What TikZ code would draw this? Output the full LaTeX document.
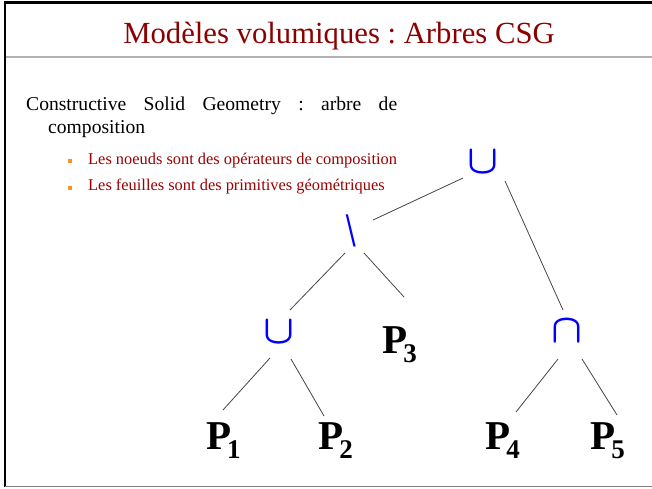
\documentclass[tikz,border=0pt]{standalone}
\usepackage{fontspec}
\setmainfont{Liberation Serif}
\usepackage{tikz}
\usetikzlibrary{positioning}
\usepackage{xcolor}
\definecolor{titlered}{HTML}{8B0000}
\definecolor{itemred}{HTML}{990000}
\definecolor{bulletorange}{HTML}{F7931E}
\definecolor{opblue}{HTML}{0000FF}
\definecolor{edgegray}{HTML}{444444}
\newcommand{\leafP}[1]{P\kern-4pt\raisebox{-9pt}{\fontsize{27}{27}\selectfont #1}}
\newcommand{\opsym}[1]{\scalebox{4.05}{\boldmath$#1$}}
\frenchspacing

\begin{document}
\begin{tikzpicture}[
        x=1pt, y=-1pt,
        op/.style={inner sep=0, text=opblue, font=\normalsize},
        leaf/.style={inner sep=0, anchor=base west, font=\bfseries\fontsize{41}{41}\selectfont},
        edge/.style={draw=edgegray, line width=0.8pt},
        item/.style={inner sep=0, anchor=base west, text=itemred, font=\fontsize{16.4}{16.4}\selectfont},
        itemmark/.style={inner sep=0, minimum size=4.5pt, fill=bulletorange},
      ]
        \useasboundingbox (0,0) rectangle (652,488);
        % slide frame
        \draw[line width=2.5pt] (652,2.5) -- (5,2.5) -- (5,487);
        \draw[line width=1.5pt, color=gray] (5,486.5) -- (652,486.5);
        \draw[line width=2pt, color=gray!60] (6,57) -- (652,57);
        \node[inner sep=0, anchor=base, text=titlered, font=\fontsize{30.7}{30.7}\selectfont] (title) at (339,43) {Modèles volumiques : Arbres CSG};
        % text
        \node[inner sep=0, anchor=base west, font=\fontsize{19.6}{19.6}\selectfont] (intro) at (26,110.7) {\makebox[371pt][s]{Constructive Solid Geometry : arbre de}};
        \node[inner sep=0, anchor=base west, font=\fontsize{19.6}{19.6}\selectfont] (introb) at (48,133) {composition};
        \node[itemmark] (m1) at (70,161) {};
        \node[item] (i1) at (88,164) {Les noeuds sont des opérateurs de composition};
        \node[itemmark] (m2) at (70,188) {};
        \node[item] (i2) at (88,190.5) {Les feuilles sont des primitives géométriques};
        % tree
        \node[op] (root) at (483.5,162.5) {\opsym{\cup}};
        \node[op] (diff) at (351,231) {\scalebox{0.7}[1]{\bfseries\fontsize{48}{48}\selectfont\textbackslash}};
        \node[op] (cupa) at (279,332) {\opsym{\cup}};
        \node[op] (capb) at (567,331.5) {\opsym{\cap}};
        \node[leaf] (p1) at (206,449) {\leafP{1}};
        \node[leaf] (p2) at (318,449) {\leafP{2}};
        \node[leaf] (p3) at (382,353) {\leafP{3}};
        \node[leaf] (p4) at (485,449) {\leafP{4}};
        \node[leaf] (p5) at (590,449) {\leafP{5}};
        \draw[edge] ([shift={(-20.5,15.5)}]root.center) -- ([shift={(22,-11)}]diff.center);
        \draw[edge] ([shift={(21.5,18.5)}]root.center) -- ([shift={(-4,-21.5)}]capb.center);
        \draw[edge] ([shift={(-6,22)}]diff.center) -- ([shift={(11,-22)}]cupa.center);
        \draw[edge] ([shift={(13,22)}]diff.center) -- ([shift={(22,-56)}]p3.base west);
        \draw[edge] ([shift={(-9,26)}]cupa.center) -- ([shift={(17,-39)}]p1.base west);
        \draw[edge] ([shift={(12,27)}]cupa.center) -- ([shift={(6,-33)}]p2.base west);
        \draw[edge] ([shift={(-9,27.5)}]capb.center) -- ([shift={(31,-37)}]p4.base west);
        \draw[edge] ([shift={(15,27.5)}]capb.center) -- ([shift={(27,-34)}]p5.base west);
      \end{tikzpicture}
\end{document}
